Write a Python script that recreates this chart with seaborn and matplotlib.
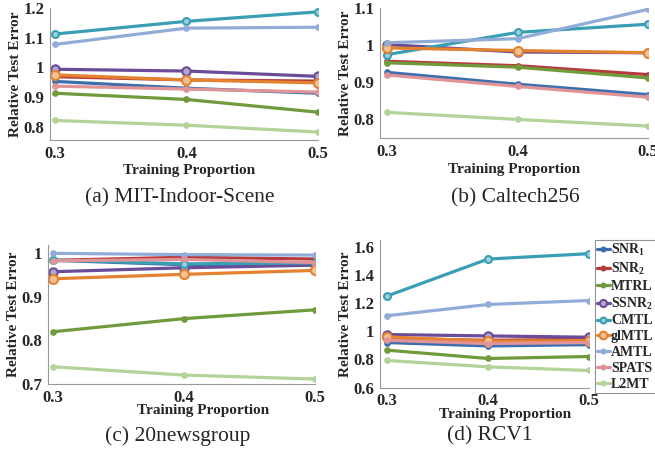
import numpy as np
import pandas as pd
import matplotlib
matplotlib.use("Agg")
import matplotlib.pyplot as plt
import seaborn as sns

sns.set_theme(style="white")
plt.rcParams['font.family'] = ['Liberation Serif', 'DejaVu Serif']
plt.rcParams['mathtext.fontset'] = 'custom'
plt.rcParams['mathtext.rm'] = 'Liberation Serif:bold'
plt.rcParams['mathtext.it'] = 'Liberation Serif:bold'
plt.rcParams['mathtext.bf'] = 'Liberation Serif:bold'
plt.rcParams['mathtext.default'] = 'rm'

props = [0.3, 0.4, 0.5]
methods = ['SNR$_1$', 'SNR$_2$', 'MTRL', 'SSNR$_2$', 'CMTL', 'glMTL', 'AMTL', 'SPATS', 'L2MT']
colors = ['#3d6fae', '#b73a3d', '#6f9b3c', '#6a4c99', '#3a9fb4', '#e5822f', '#92acd8', '#e09497', '#b4d39a']

mit = {
    'SNR$_1$': [0.953, 0.930, 0.913],
    'SNR$_2$': [0.969, 0.958, 0.954],
    'MTRL': [0.913, 0.892, 0.849],
    'SSNR$_2$': [0.994, 0.988, 0.970],
    'CMTL': [1.113, 1.156, 1.188],
    'glMTL': [0.975, 0.958, 0.948],
    'AMTL': [1.078, 1.133, 1.136],
    'SPATS': [0.937, 0.927, 0.917],
    'L2MT': [0.821, 0.805, 0.782],
}
caltech = {
    'SNR$_1$': [0.927, 0.895, 0.867],
    'SNR$_2$': [0.957, 0.945, 0.921],
    'MTRL': [0.953, 0.941, 0.912],
    'SSNR$_2$': [1.002, 0.982, 0.980],
    'CMTL': [0.975, 1.035, 1.057],
    'glMTL': [0.993, 0.986, 0.980],
    'AMTL': [1.007, 1.018, 1.097],
    'SPATS': [0.920, 0.889, 0.860],
    'L2MT': [0.819, 0.800, 0.782],
}
news = {
    'SNR$_1$': [0.983, 0.973, 0.973],
    'SNR$_2$': [0.983, 0.990, 0.986],
    'MTRL': [0.820, 0.850, 0.870],
    'SSNR$_2$': [0.957, 0.966, 0.972],
    'CMTL': [0.984, 0.975, 0.977],
    'glMTL': [0.941, 0.951, 0.960],
    'AMTL': [0.999, 0.996, 0.995],
    'SPATS': [0.982, 0.985, 0.978],
    'L2MT': [0.740, 0.721, 0.712],
}
rcv = {
    'SNR$_1$': [0.920, 0.896, 0.905],
    'SNR$_2$': [0.948, 0.936, 0.943],
    'MTRL': [0.866, 0.807, 0.821],
    'SSNR$_2$': [0.977, 0.967, 0.958],
    'CMTL': [1.250, 1.512, 1.550],
    'glMTL': [0.960, 0.930, 0.934],
    'AMTL': [1.110, 1.190, 1.218],
    'SPATS': [0.936, 0.913, 0.920],
    'L2MT': [0.793, 0.748, 0.722],
}

captions = ['(a) MIT-Indoor-Scene', '(b) Caltech256', '(c) 20newsgroup', '(d) RCV1']
datasets = [mit, caltech, news, rcv]
yticks = [[0.8, 0.9, 1.0, 1.1, 1.2], [0.8, 0.9, 1.0, 1.1], [0.7, 0.8, 0.9, 1.0], [0.6, 0.8, 1.0, 1.2, 1.4, 1.6]]
ylims = [(0.755, 1.2), (0.749, 1.1), (0.7, 1.018), (0.6, 1.647)]

W, H = 655, 455
fig = plt.figure(figsize=(W / 100, H / 100), dpi=100)

# axes boxes in pixels: left, top, right, bottom
boxes = [(49.7, 8.3, 318, 140), (380, 8.3, 648, 138.3), (48, 245, 315, 384.3), (380, 240, 589, 387.7)]
xlows = [0.296, 0.2946, 0.296, 0.293]
caption_pos = [(180, 198), (515, 198), (178, 436), (490, 436)]
xlabel_x = [0.52, 0.5, 0.58, 0.6]
xlabel_pad = [2, 2, -1, -1]

markers = {'SSNR$_2$': ('o', 6), 'CMTL': ('o', 5), 'glMTL': ('o', 6.5)}

def tick_fmt(v):
    s = f'{v:.1f}'
    return '1' if s == '1.0' else s

axes = []
for i, (data, box) in enumerate(zip(datasets, boxes)):
    l, t, r, b = box
    ax = fig.add_axes([l / W, 1 - b / H, (r - l) / W, (b - t) / H])
    axes.append(ax)
    for m, c in zip(methods, colors):
        df = pd.DataFrame({'prop': props, 'err': data[m]})
        mk, ms = markers.get(m, ('o', 3.3))
        sns.lineplot(data=df, x='prop', y='err', ax=ax, color=c, lw=2.3,
                     marker=mk, markersize=ms, markeredgecolor=c,
                     markerfacecolor=(c if ms < 4 else sns.blend_palette([c, 'white'], 3)[1]),
                     markeredgewidth=1.5, label=m, legend=False)
    ax.set_xlim(xlows[i], 0.5)
    ax.set_ylim(*ylims[i])
    ax.set_xticks(props)
    ax.set_xticklabels([tick_fmt(p) for p in props], fontsize=12, fontweight='bold')
    ax.set_yticks(yticks[i])
    ax.set_yticklabels([tick_fmt(v) for v in yticks[i]], fontsize=12, fontweight='bold')
    ax.set_xlabel('Training Proportion', fontsize=11, fontweight='bold', labelpad=xlabel_pad[i])
    ax.xaxis.label.set_x(xlabel_x[i])
    ax.set_ylabel('Relative Test Error', fontsize=11, fontweight='bold', labelpad=1)
    for s in ['top', 'right']:
        ax.spines[s].set_visible(False)
    for s in ['left', 'bottom']:
        ax.spines[s].set_color('#999999')
        ax.spines[s].set_linewidth(0.8)
    ax.tick_params(direction='in', length=3, width=0.6, color='#999999', pad=4)
    ax.patch.set_alpha(0)
    cx, cy = caption_pos[i]
    fig.text(cx / W, 1 - cy / H, captions[i], ha='center', va='center', fontsize=15.5)

handles, labels = axes[3].get_legend_handles_labels()
leg = fig.legend(handles, labels, loc='upper left', bbox_to_anchor=(595 / W, 1 - 240 / H),
                 bbox_transform=fig.transFigure, frameon=True, fancybox=False,
                 edgecolor='#777777', prop={'weight': 'bold', 'size': 10},
                 handlelength=0.9, handletextpad=0.1, labelspacing=0.2, borderpad=0.15,
                 borderaxespad=0, markerscale=0.85)
leg.get_frame().set_linewidth(0.8)

fig.savefig('out.png', dpi=100)
